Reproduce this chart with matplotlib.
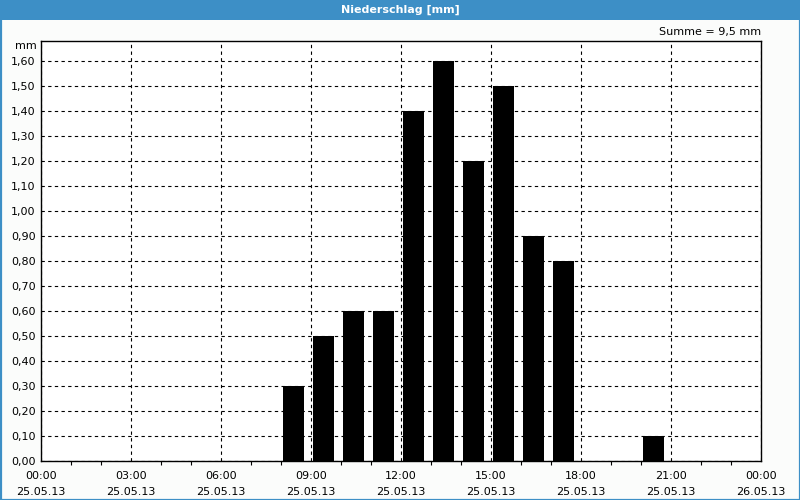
import matplotlib
matplotlib.use("Agg")
import matplotlib.pyplot as plt
from matplotlib.patches import Rectangle
from matplotlib.ticker import MultipleLocator, FuncFormatter

# Data: hourly precipitation (hour start, mm)
hours = [8, 9, 10, 11, 12, 13, 14, 15, 16, 17, 20]
values = [0.3, 0.5, 0.6, 0.6, 1.4, 1.6, 1.2, 1.5, 0.9, 0.8, 0.1]
tick_hours = [0, 3, 6, 9, 12, 15, 18, 21, 24]
tick_labels = ["00:00\n25.05.13", "03:00\n25.05.13", "06:00\n25.05.13",
               "09:00\n25.05.13", "12:00\n25.05.13", "15:00\n25.05.13",
               "18:00\n25.05.13", "21:00\n25.05.13", "00:00\n26.05.13"]
title = "Niederschlag [mm]"
total_label = "Summe = 9,5 mm"

W, H = 800, 500
fig = plt.figure(figsize=(W / 100, H / 100), dpi=100)
fig.patch.set_facecolor("#fbfcfb")

blue = "#3d8fc6"
# title bar
fig.patches.append(Rectangle((0, 1 - 20 / H), 1, 20 / H, transform=fig.transFigure,
                             facecolor=blue, edgecolor="none", zorder=0))
# window border
fig.patches.append(Rectangle((0.5 / W, 0.5 / H), 1 - 1 / W, 1 - 1 / H, transform=fig.transFigure,
                             facecolor="none", edgecolor=blue, linewidth=1.6, zorder=0))
fig.text(0.5, 1 - 10 / H, title, color="white", fontsize=8, fontweight="bold",
         ha="center", va="center")

ax = fig.add_axes([41 / W, 39 / H, 720 / W, 420 / H])
ax.set_facecolor("white")

ax.bar([h + 0.07 for h in hours], values, width=0.7, align="edge",
       color="black", edgecolor="black", linewidth=0, zorder=3)

ax.set_xlim(0, 24)
ax.set_ylim(0, 1.68)
ax.set_xticks(tick_hours)
ax.set_xticklabels(tick_labels, fontsize=8, linespacing=1.75)
ax.xaxis.set_minor_locator(MultipleLocator(1))
ax.yaxis.set_major_locator(MultipleLocator(0.1))
ax.yaxis.set_major_formatter(FuncFormatter(lambda v, p: f"{v:.2f}".replace(".", ",")))
ax.tick_params(axis="y", length=0, labelsize=8, pad=4)
ax.tick_params(axis="x", which="major", length=0, pad=7)
ax.tick_params(axis="x", which="minor", length=3, width=0.8, direction="out")

ax.grid(True, which="major", color="black", linestyle=(0, (3, 3)), linewidth=0.8, zorder=1)
ax.set_axisbelow(True)
for s in ax.spines.values():
    s.set_linewidth(1)
    s.set_color("black")

fig.text(37 / W, 1 - 46 / H, "mm", fontsize=8, ha="right", va="center")
fig.text(761 / W, 1 - 32 / H, total_label, fontsize=8, ha="right", va="center")

fig.savefig("out.png", dpi=100, facecolor=fig.get_facecolor())
